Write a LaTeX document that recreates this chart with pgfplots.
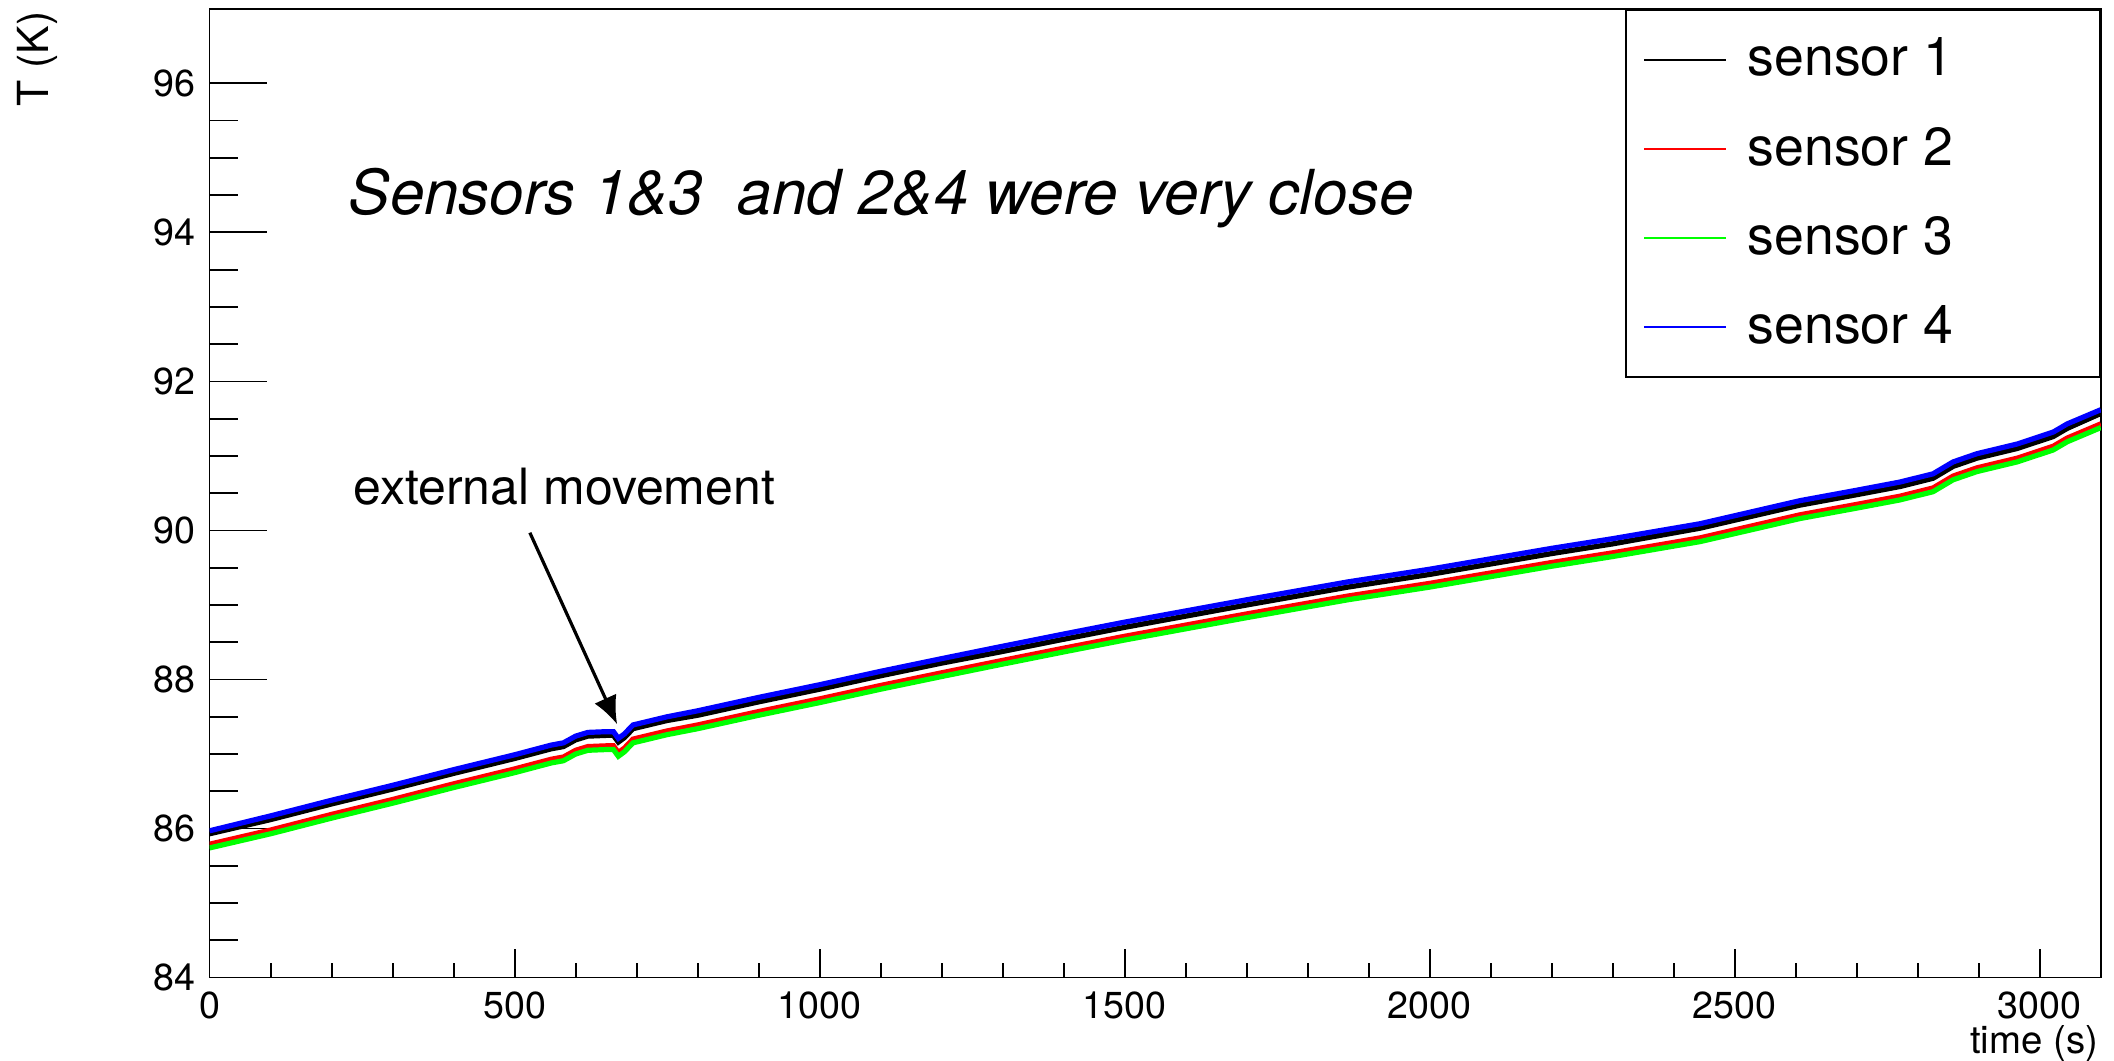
\documentclass[border=0pt]{standalone}
\usepackage{pgfplots}
\pgfplotsset{compat=1.18}
\usepackage{fontspec}
\setmainfont{TeX Gyre Heros}
\usetikzlibrary{arrows.meta}

% sensor readings (time in s, T in K)
\pgfplotstableread{
t     s1     s2     s3     s4
0     85.93  85.79  85.74  85.97
100   86.12  85.98  85.93  86.17
200   86.33  86.19  86.14  86.38
300   86.53  86.39  86.34  86.58
400   86.74  86.60  86.55  86.79
500   86.94  86.80  86.75  86.99
560   87.07  86.93  86.88  87.12
580   87.10  86.96  86.91  87.15
600   87.19  87.05  87.00  87.24
620   87.24  87.10  87.05  87.29
650   87.25  87.11  87.06  87.30
662   87.25  87.11  87.06  87.30
670   87.16  87.02  86.97  87.21
680   87.22  87.08  87.03  87.27
694   87.34  87.20  87.15  87.39
750   87.45  87.31  87.26  87.50
800   87.52  87.39  87.34  87.58
900   87.70  87.57  87.52  87.76
1000  87.87  87.74  87.69  87.93
1100  88.05  87.92  87.87  88.11
1200  88.22  88.09  88.04  88.28
1296  88.37  88.25  88.20  88.44
1400  88.54  88.42  88.37  88.61
1500  88.70  88.58  88.53  88.77
1600  88.85  88.73  88.68  88.92
1700  89.00  88.88  88.83  89.07
1866  89.24  89.12  89.07  89.31
2000  89.41  89.29  89.24  89.48
2100  89.55  89.43  89.38  89.62
2200  89.69  89.57  89.52  89.76
2300  89.82  89.70  89.65  89.89
2443  90.03  89.90  89.85  90.09
2607  90.34  90.21  90.16  90.40
2700  90.48  90.35  90.30  90.54
2771  90.59  90.46  90.41  90.65
2825  90.70  90.57  90.52  90.76
2858  90.86  90.73  90.68  90.92
2897  90.97  90.84  90.79  91.03
2963  91.10  90.97  90.92  91.16
3022  91.26  91.13  91.08  91.32
3045  91.37  91.24  91.19  91.43
3100  91.57  91.43  91.38  91.62
}\sensors

\begin{document}
\begin{tikzpicture}
\begin{axis}[
    scale only axis,
    width=472.8pt, height=242.2pt,
    xmin=0, xmax=3100, ymin=84, ymax=97,
    xtick={0,500,...,3000},
    ytick={84,86,...,96},
    minor x tick num=4,
    minor y tick num=3,
    tick align=inside,
    xtick pos=bottom, ytick pos=left,
    x tick style={/pgfplots/major tick length=7.1pt, /pgfplots/minor tick length=3.6pt},
    y tick style={/pgfplots/major tick length=14.3pt, /pgfplots/minor tick length=7.2pt},
    axis line style={line width=0.45pt},
    every tick/.style={black, line width=0.45pt},
    tick label style={font=\fontsize{9.4}{11}\selectfont},
    /pgf/number format/assume math mode=true,
    /pgf/number format/set thousands separator={},
    legend style={
        at={(1,1)}, anchor=north east, draw=black, line width=0.5pt,
        font=\fontsize{13.4}{16}\selectfont,
        inner xsep=4.4pt, inner ysep=5pt, row sep=7.3pt,
        nodes={inner sep=2pt},
        /tikz/every odd column/.append style={column sep=3.1pt},
    },
    legend cell align=left,
    legend image code/.code={\draw[#1, line width=0.5pt] (0pt,0pt) -- (20.5pt,0pt);},
    every axis plot/.append style={line width=1.3pt},
]
\addplot[black] table[x=t, y=s1] {\sensors};
\addlegendentry{\makebox[81.6pt][l]{sensor 1}}
\addplot[red] table[x=t, y=s2] {\sensors};
\addlegendentry{\makebox[81.6pt][l]{sensor 2}}
\addplot[green] table[x=t, y=s3] {\sensors};
\addlegendentry{\makebox[81.6pt][l]{sensor 3}}
\addplot[blue] table[x=t, y=s4] {\sensors};
\addlegendentry{\makebox[81.6pt][l]{sensor 4}}

\node[anchor=base west, inner sep=0, font=\fontsize{15.5}{18}\selectfont\itshape]
    at (axis cs:226.7,94.24) {Sensors 1\&3\ \ and 2\&4 were very close};
\node[anchor=base west, inner sep=0, font=\fontsize{12.5}{15}\selectfont]
    at (axis cs:235,90.35) {external movement};
\draw[line width=0.8pt, -{Latex[length=7pt, width=6pt]}]
    (axis cs:525,89.97) -- (axis cs:668,87.40);
\end{axis}
% axis titles, placed from the axis' lower left corner
\node[rotate=90, anchor=base east, inner sep=0, font=\fontsize{10.7}{13}\selectfont]
    at (-40.2pt,241.7pt) {T (K)};
\node[anchor=base east, inner sep=0, font=\fontsize{9.6}{12}\selectfont]
    at (472.3pt,-18.9pt) {time (s)};
\pgfresetboundingbox
\path (-52.4pt,-20.85pt) rectangle (476.1pt,244.4pt);
\end{tikzpicture}
\end{document}
